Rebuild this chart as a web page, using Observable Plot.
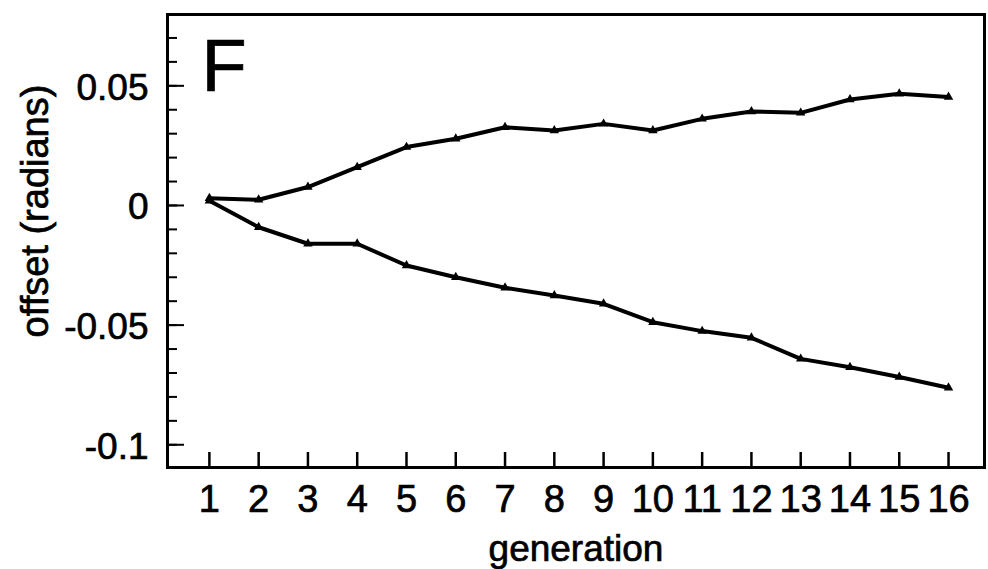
<!DOCTYPE html>
<html>
<head>
<meta charset="utf-8">
<script src="https://cdn.jsdelivr.net/npm/d3@7"></script>
<script src="https://cdn.jsdelivr.net/npm/@observablehq/plot@0.6"></script>
<style>
  html, body { margin: 0; padding: 0; background: #fff; }
  svg { display: block; }
  /* slightly heavier lettering, as in the printed figure */
  svg text { stroke: #000; stroke-width: 0.7px; }
</style>
</head>
<body>
<script>
// Generations on the x axis
const generations = [1, 2, 3, 4, 5, 6, 7, 8, 9, 10, 11, 12, 13, 14, 15, 16];
// Mean offset (radians) of the two diverging lineages
const upperOffset = [0.003, 0.0024, 0.0077, 0.016, 0.0244, 0.0279, 0.0327, 0.0313, 0.0341, 0.0313, 0.0362, 0.0393, 0.0387, 0.0443, 0.0467, 0.0453];
const lowerOffset = [0.002, -0.0091, -0.016, -0.016, -0.0251, -0.030, -0.0344, -0.0376, -0.0411, -0.0488, -0.0525, -0.0553, -0.0641, -0.0676, -0.0717, -0.0762];
// Axis ticks
const yMajorTicks = [-0.1, -0.05, 0, 0.05];
const yMinorTicks = [-0.1, -0.09, -0.08, -0.07, -0.06, -0.05, -0.04, -0.03, -0.02, -0.01, 0, 0.01, 0.02, 0.03, 0.04, 0.05, 0.06, 0.07];
const yTickLabels = ["-0.1", "-0.05", "0", "0.05"];
const panelLabel = "F";

const rows = [
  ...generations.map((g, i) => ({generation: g, offset: upperOffset[i], lineage: "upper"})),
  ...generations.map((g, i) => ({generation: g, offset: lowerOffset[i], lineage: "lower"}))
];

const font = "'Liberation Sans', Arial, Helvetica, sans-serif";

const chart = Plot.plot({
  width: 988,
  height: 569,
  marginLeft: 167,
  marginRight: 4,
  marginTop: 14,
  marginBottom: 102,
  style: {background: "#fff", fontFamily: font, color: "#000"},
  x: {domain: [0.15, 16.73]},
  y: {domain: [-0.1095, 0.0798]},
  marks: [
    // inward ticks
    Plot.axisX({ticks: generations, tickSize: -15, strokeWidth: 2.5, text: null, label: null}),
    Plot.axisY({ticks: yMinorTicks, tickSize: -10, strokeWidth: 2, text: null, label: null}),
    Plot.axisY({ticks: yMajorTicks, tickSize: -17, strokeWidth: 2, text: null, label: null}),
    // tick labels
    Plot.axisX({ticks: generations, tickSize: 0, tickPadding: 18, fontSize: 38, label: null, tickFormat: d => String(d)}),
    Plot.axisY({ticks: yMajorTicks, tickSize: 0, tickPadding: 19, fontSize: 37, dy: 2, label: null,
      tickFormat: d => yTickLabels[yMajorTicks.indexOf(d)]}),
    // axis titles
    Plot.text(["generation"], {frameAnchor: "bottom", lineAnchor: "bottom", dy: 93, fontSize: 37, text: d => d}),
    Plot.text(["offset (radians)"], {frameAnchor: "left", textAnchor: "middle", lineAnchor: "middle", rotate: -90,
      dx: -132, dy: -30, fontSize: 38, text: d => d}),
    // panel letter
    Plot.text([panelLabel], {frameAnchor: "top-left", textAnchor: "start", lineAnchor: "top", dx: 34, dy: 24, fontSize: 74, text: d => d}),
    // lineages
    Plot.line(rows, {x: "generation", y: "offset", z: "lineage", stroke: "#000", strokeWidth: 4}),
    Plot.dot(rows, {x: "generation", y: "offset", symbol: "triangle", r: 3.5, fill: "#000"}),
    Plot.frame({stroke: "#000", strokeWidth: 3})
  ]
});

document.body.appendChild(chart);
</script>
</body>
</html>
